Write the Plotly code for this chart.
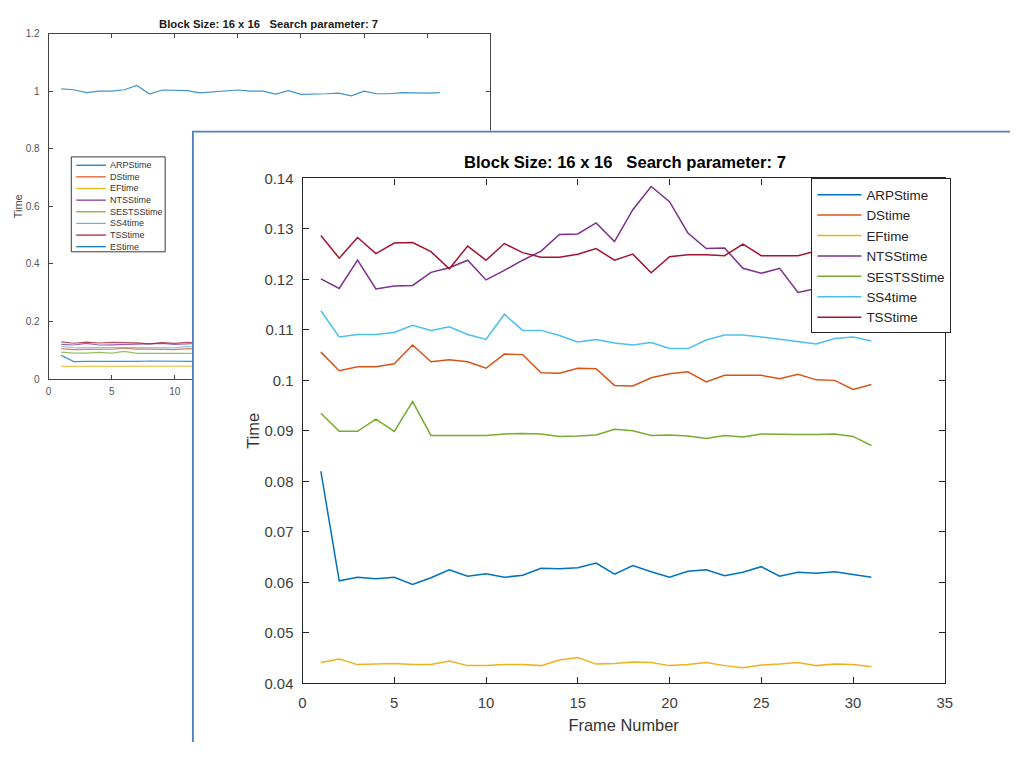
import plotly.graph_objects as go

# page: default 8px body margin, so the figure fills the 1026x758 window exactly
OFF = 8
W, H = 1026 - 2 * OFF, 758 - 2 * OFF

# ---------------- data ----------------
frames = [1, 2, 3, 4, 5, 6, 7, 8, 9, 10, 11, 12, 13, 14, 15, 16,
          17, 18, 19, 20, 21, 22, 23, 24, 25, 26, 27, 28, 29, 30, 31]

series_names = ["ARPStime", "DStime", "EFtime", "NTSStime",
                "SESTSStime", "SS4time", "TSStime"]
back_extra_name = "EStime"

arps_time = [0.0820, 0.0603, 0.0610, 0.0607, 0.0610, 0.0596, 0.0609, 0.0625,
             0.0612, 0.0617, 0.0610, 0.0614, 0.0628, 0.0627, 0.0629, 0.0638,
             0.0616, 0.0633, 0.0621, 0.0610, 0.0622, 0.0625, 0.0613, 0.0620,
             0.0631, 0.0612, 0.0620, 0.0618, 0.0621, 0.0616, 0.0610]
ds_time = [0.1056, 0.1019, 0.1027, 0.1027, 0.1033, 0.1070, 0.1037, 0.1041,
           0.1037, 0.1024, 0.1052, 0.1051, 0.1015, 0.1014, 0.1024, 0.1023,
           0.0990, 0.0989, 0.1005, 0.1013, 0.1017, 0.0997, 0.1010, 0.1010,
           0.1010, 0.1003, 0.1012, 0.1001, 0.1000, 0.0982, 0.0992]
ef_time = [0.0441, 0.0448, 0.0437, 0.0438, 0.0439, 0.0437, 0.0437, 0.0444,
           0.0435, 0.0435, 0.0437, 0.0437, 0.0435, 0.0446, 0.0451, 0.0438,
           0.0439, 0.0442, 0.0441, 0.0435, 0.0437, 0.0441, 0.0435, 0.0431,
           0.0436, 0.0438, 0.0441, 0.0435, 0.0438, 0.0437, 0.0433]
ntss_time = [0.1201, 0.1182, 0.1238, 0.1181, 0.1187, 0.1188, 0.1214, 0.1223,
             0.1238, 0.1199, 0.1218, 0.1238, 0.1256, 0.1289, 0.1290, 0.1312,
             0.1275, 0.1338, 0.1384, 0.1354, 0.1292, 0.1261, 0.1262, 0.1222,
             0.1212, 0.1222, 0.1174, 0.1182, 0.1188, 0.1184, 0.1180]
sestss_time = [0.0935, 0.0899, 0.0899, 0.0923, 0.0899, 0.0958, 0.0891, 0.0891,
               0.0890, 0.0891, 0.0894, 0.0895, 0.0894, 0.0889, 0.0890, 0.0892,
               0.0903, 0.0900, 0.0891, 0.0892, 0.0890, 0.0885, 0.0891, 0.0888,
               0.0894, 0.0893, 0.0893, 0.0893, 0.0894, 0.0889, 0.0871]
ss4_time = [0.1138, 0.1086, 0.1091, 0.1091, 0.1095, 0.1109, 0.1099, 0.1106,
            0.1091, 0.1081, 0.1131, 0.1099, 0.1099, 0.1089, 0.1076, 0.1081,
            0.1074, 0.1070, 0.1075, 0.1063, 0.1063, 0.1080, 0.1090, 0.1090,
            0.1086, 0.1081, 0.1077, 0.1072, 0.1083, 0.1086, 0.1078]
tss_time = [0.1287, 0.1242, 0.1283, 0.1251, 0.1272, 0.1273, 0.1255, 0.1221,
            0.1266, 0.1238, 0.1271, 0.1253, 0.1244, 0.1244, 0.1250, 0.1261,
            0.1238, 0.1250, 0.1213, 0.1245, 0.1249, 0.1249, 0.1247, 0.1270,
            0.1247, 0.1247, 0.1247, 0.1256, 0.1252, 0.1250, 0.1248]
es_time = [1.008, 1.005, 0.995, 1.000, 1.000, 1.005, 1.020, 0.990,
           1.004, 1.002, 1.002, 0.994, 0.997, 1.000, 1.004, 1.000,
           1.000, 0.990, 1.002, 0.989, 0.989, 0.991, 0.993, 0.984,
           1.000, 0.991, 0.991, 0.995, 0.994, 0.993, 0.995]

front_values = [arps_time, ds_time, ef_time, ntss_time,
                sestss_time, ss4_time, tss_time]
back_values = front_values + [es_time]
back_names = series_names + [back_extra_name]

colors = ["#0072BD", "#D95319", "#EDB120", "#7E2F8E",
          "#77AC30", "#4DBEEE", "#A2142F", "#0072BD"]

x_ticks = [0, 5, 10, 15, 20, 25, 30, 35]
x_tick_labels = ["0", "5", "10", "15", "20", "25", "30", "35"]
front_y_ticks = [0.04, 0.05, 0.06, 0.07, 0.08, 0.09, 0.10, 0.11, 0.12, 0.13, 0.14]
front_y_tick_labels = ["0.04", "0.05", "0.06", "0.07", "0.08", "0.09",
                       "0.1", "0.11", "0.12", "0.13", "0.14"]
back_y_ticks = [0, 0.2, 0.4, 0.6, 0.8, 1.0, 1.2]
back_y_tick_labels = ["0", "0.2", "0.4", "0.6", "0.8", "1", "1.2"]

title_text = "Block Size: 16 x 16\u00a0\u00a0\u00a0Search parameter: 7"
x_title = "Frame Number"
y_title = "Time"

FONT = "Liberation Sans, Arial, Helvetica, sans-serif"
AX = "#262626"


def px(p):
    """window pixel x -> paper x"""
    return (p - OFF) / W


def py(p):
    """window pixel y -> paper y"""
    return 1 - (p - OFF) / H


fig = go.Figure()

# ---- back (partly hidden) figure ----
for name, vals, c in zip(back_names, back_values, colors):
    fig.add_trace(go.Scatter(x=frames, y=vals, mode="lines", name=name,
                             line=dict(color=c, width=1.2), opacity=0.75,
                             xaxis="x", yaxis="y", showlegend=False,
                             hoverinfo="skip"))

# ---- cover panel subplot (front window) ----
fig.add_trace(go.Scatter(x=[], y=[], xaxis="x2", yaxis="y2",
                         showlegend=False, hoverinfo="skip"))

# ---- front figure ----
for name, vals, c in zip(series_names, front_values, colors):
    fig.add_trace(go.Scatter(x=frames, y=vals, mode="lines", name=name,
                             line=dict(color=c, width=1.5),
                             xaxis="x3", yaxis="y3"))

panel_x, panel_y = 190, 125
panel_w = (W + OFF) - panel_x
panel_h = (H + OFF) - panel_y
shapes = [
    dict(type="rect", xref="x2", yref="y2", layer="below",
         x0=1.0 / panel_w, x1=1.05, y0=-0.05, y1=1 - 1.0 / panel_h,
         fillcolor="white", line=dict(color="#4F81BD", width=2)),
    # back legend box
    dict(type="rect", xref="paper", yref="paper", layer="above",
         x0=px(68), x1=px(163), y0=py(249), y1=py(152),
         fillcolor="white", line=dict(color="#3a3a3a", width=1)),
]
annotations = [
    dict(text="<b>" + title_text + "</b>", x=px(628), y=py(158),
         xref="paper", yref="paper", showarrow=False,
         xanchor="center", yanchor="middle",
         font=dict(family=FONT, size=16.6, color="#000000")),
    dict(text="<b>" + title_text + "</b>", x=px(268), y=py(16),
         xref="paper", yref="paper", showarrow=False,
         xanchor="center", yanchor="middle",
         font=dict(family=FONT, size=11.3, color="#1a1a1a")),
]
row0, row_h = 160.5, 11.9
for i, (name, c) in enumerate(zip(back_names, colors)):
    yy = py(row0 + i * row_h)
    shapes.append(dict(type="line", xref="paper", yref="paper", layer="above",
                       x0=px(73), x1=px(103), y0=yy, y1=yy,
                       line=dict(color=c, width=1.2)))
    annotations.append(dict(text=name, x=px(105), y=yy, xref="paper",
                            yref="paper", showarrow=False, xanchor="left",
                            yanchor="middle",
                            font=dict(family=FONT, size=9, color="#333333")))

common_front = dict(showline=True, linecolor=AX, linewidth=1.2, mirror="ticks",
                    ticks="inside", ticklen=6, tickwidth=1, tickcolor=AX,
                    showgrid=False, zeroline=False,
                    tickfont=dict(family=FONT, size=14.9, color="#404040"))
common_back = dict(showline=True, linecolor="#444444", linewidth=1,
                   mirror="ticks", ticks="inside", ticklen=4, tickwidth=1,
                   tickcolor="#444444", showgrid=False, zeroline=False,
                   tickfont=dict(family=FONT, size=10, color="#555555"))

fig.update_layout(
    width=W, height=H, autosize=False,
    margin=dict(l=0, r=0, t=0, b=0, pad=0),
    paper_bgcolor="white", plot_bgcolor="white",
    font=dict(family=FONT, color=AX),
    xaxis=dict(domain=[px(45), px(492)], range=[0, 35], anchor="y",
               tickvals=x_ticks, ticktext=x_tick_labels,
               ticklabelstandoff=3, **common_back),
    yaxis=dict(domain=[py(379), py(26)], range=[0, 1.2], anchor="x",
               tickvals=back_y_ticks, ticktext=back_y_tick_labels,
               ticklabelstandoff=6,
               title=dict(text=y_title, standoff=0,
                          font=dict(family=FONT, size=11, color="#444444")),
               **common_back),
    xaxis2=dict(domain=[px(panel_x), 1], range=[0, 1], anchor="y2", visible=False),
    yaxis2=dict(domain=[0, py(panel_y)], range=[0, 1], anchor="x2", visible=False),
    xaxis3=dict(domain=[px(302), px(952)], range=[0, 35], anchor="y3",
                tickvals=x_ticks, ticktext=x_tick_labels,
                ticklabelstandoff=6,
                title=dict(text=x_title, standoff=9,
                           font=dict(family=FONT, size=16.4, color="#333333")),
                **common_front),
    yaxis3=dict(domain=[py(690), py(174)], range=[0.04, 0.14], anchor="x3",
                tickvals=front_y_ticks, ticktext=front_y_tick_labels,
                ticklabelstandoff=5,
                title=dict(text=y_title, standoff=0,
                           font=dict(family=FONT, size=16.4, color="#333333")),
                **common_front),
    legend=dict(x=px(817), y=py(174), xanchor="left", yanchor="top",
                bgcolor="white", bordercolor=AX, borderwidth=1,
                font=dict(family=FONT, size=13.4, color="#262626"),
                itemwidth=44, tracegroupgap=0),
    shapes=shapes,
    annotations=annotations,
)

fig.write_html("out.html", config={"displayModeBar": False})
